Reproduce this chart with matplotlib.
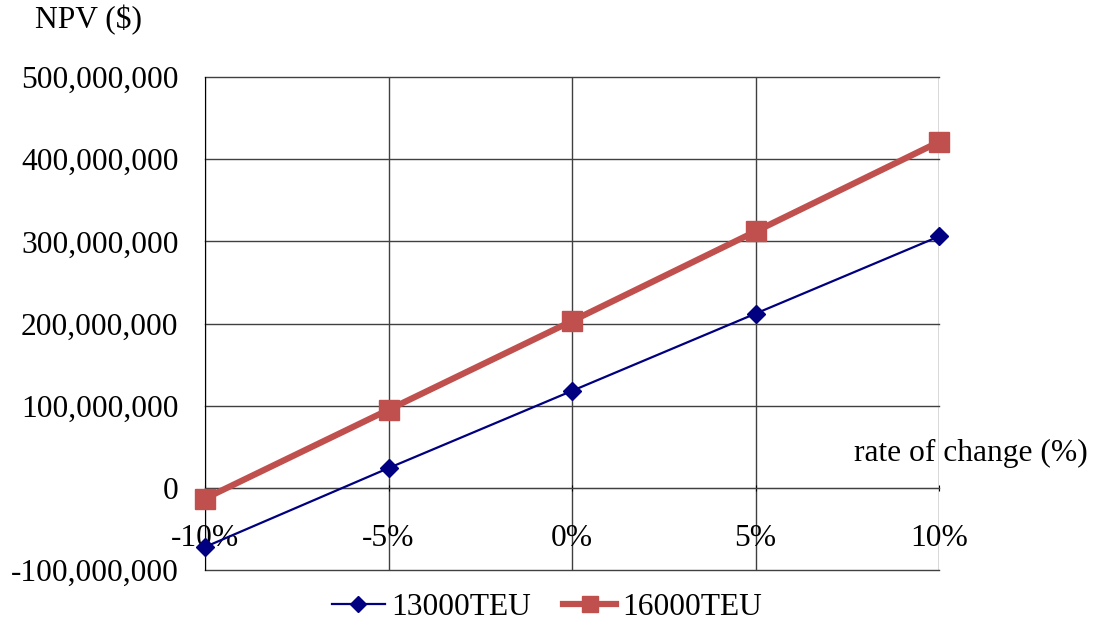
import matplotlib
matplotlib.use("Agg")
import matplotlib.pyplot as plt
from matplotlib.ticker import FuncFormatter

categories = ["-10%", "-5%", "0%", "5%", "10%"]
npv_13000 = [-72e6, 24e6, 118e6, 212e6, 306e6]
npv_16000 = [-13e6, 95e6, 203e6, 312e6, 421e6]
y_ticks = [-100e6, 0, 100e6, 200e6, 300e6, 400e6, 500e6]

plt.rcParams["font.family"] = ["Liberation Serif", "DejaVu Serif"]
plt.rcParams["font.size"] = 22.7

fig = plt.figure(figsize=(10.94, 6.26), dpi=100)
ax = fig.add_axes([205 / 1094, 1 - 570 / 626, (939 - 205) / 1094, (570 - 77) / 626])

x = list(range(len(categories)))
ax.plot(x, npv_13000, color="#000080", lw=1.6, marker="D", ms=9,
        label="13000TEU", zorder=3, clip_on=False)
ax.plot(x, npv_16000, color="#C0504D", lw=4.5, marker="s", ms=14,
        label="16000TEU", zorder=3, clip_on=False)

ax.set_xlim(0, len(categories) - 1)
ax.set_ylim(-100e6, 500e6)
ax.set_yticks(y_ticks)
ax.yaxis.set_major_formatter(FuncFormatter(lambda v, p: "{:,.0f}".format(v)))
ax.set_xticks(x)
ax.set_xticklabels(categories)

ax.grid(True, color="#404040", lw=1.0)
ax.set_axisbelow(True)
for gl in ax.get_xgridlines() + ax.get_ygridlines():
    gl.set_clip_on(False)
for s in ["top", "right"]:
    ax.spines[s].set_visible(False)
ax.spines["left"].set_color("black")
ax.spines["bottom"].set_position(("data", 0))
ax.spines["bottom"].set_color("#404040")
ax.tick_params(axis="y", length=0, pad=19)
ax.tick_params(axis="x", length=4, direction="inout", pad=24)

fig.text(35 / 1094, 1 - 20 / 626, "NPV ($)", ha="left", va="center")
fig.text(1088 / 1094, 1 - 453 / 626, "rate of change (%)", ha="right", va="center")

leg = fig.legend(loc="center", bbox_to_anchor=(547 / 1094, 1 - 607 / 626), ncol=2,
                 frameon=False, handlelength=1.7, columnspacing=1.0,
                 handletextpad=0.2, borderaxespad=0, markerscale=0.85)

fig.savefig("out.png", dpi=100)
